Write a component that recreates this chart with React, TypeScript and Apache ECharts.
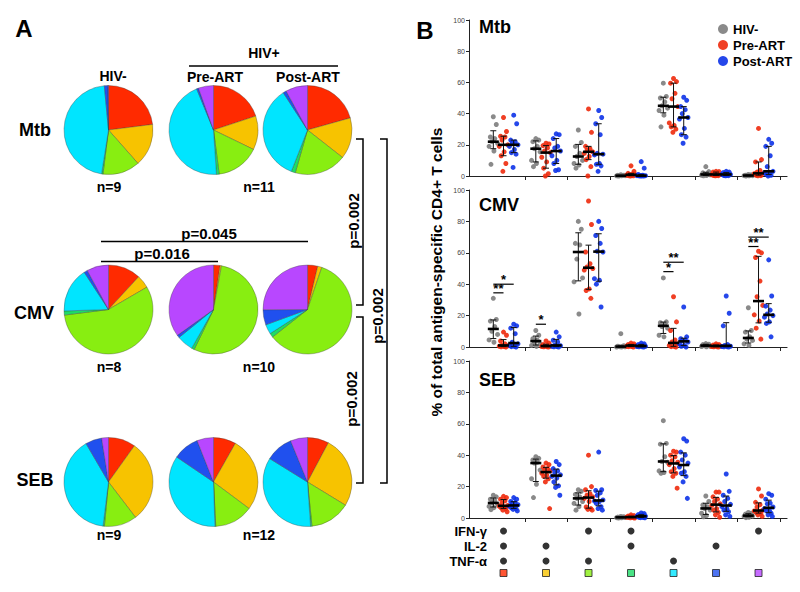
import React, { useEffect, useRef } from "react";
import * as echarts from "echarts";

const FONT = "'Liberation Sans', Arial, Helvetica, sans-serif";

const GROUPS = ["HIV-", "Pre-ART", "Post-ART"];
const GROUP_COLORS = ["#7d7d7d", "#ee2a0c", "#0d33e8"];
const GROUP_OFFSETS = [-0.24, 0, 0.24];
const STIMULI = ["Mtb", "CMV", "SEB"];
const SUBSET_COLORS = ["#ff2a00", "#f7c300", "#88ee11", "#1ddc66", "#00e5ff", "#2050ee", "#b847ff"];
const SUBSETS = ["IFN+IL2+TNF", "IL2+TNF", "IFN+TNF", "IFN+IL2", "TNF", "IL2", "IFN"];

// cytokine combination table (per subset)
const IFNG = [1, 0, 1, 1, 0, 0, 1];
const IL2 = [1, 1, 0, 1, 0, 1, 0];
const TNFA = [1, 1, 1, 0, 1, 0, 0];

// Panel A: pie proportions (%), order of SUBSETS
const PIE_MTB = [
  [23, 15.5, 13.5, 0.5, 46, 1.3, 0.2],
  [20, 12.3, 15.8, 1, 45, 0.7, 5.5],
  [20.7, 15, 18.9, 1.5, 35, 1.2, 8],
];
const PIE_CMV = [
  [12, 4.8, 57, 1.5, 16.5, 1.3, 8],
  [2.4, 0.5, 54.5, 1, 6, 1, 35],
  [3.7, 1.5, 59, 1.5, 3.5, 5.5, 25],
];
const PIE_SEB = [
  [10, 30, 12, 0.5, 40, 6, 2.5],
  [8.2, 27, 14, 0.3, 35, 9.5, 6],
  [7.8, 26, 14.7, 0.5, 35, 10, 6.2],
];
const PIE_N = [["n=9", "n=11"], ["n=8", "n=10"], ["n=9", "n=12"]];

// Panel B: per-donor values (% of total antigen-specific CD4+ T cells), one list per subset
const MTB_HIV_NEG = [
  [38, 33, 25, 24, 22, 21, 19, 16, 7.5],
  [24, 23, 22, 19, 17.5, 15.5, 10, 8, 6],
  [29.5, 21.5, 19, 14.5, 12.5, 10, 8, 7, 5],
  [0.8, 0.5, 0.4, 0.3, 0.2, 0.2, 0.1, 0.1, 0],
  [59.5, 51, 50, 47.5, 45, 43.5, 42, 39, 31.5],
  [6, 2.8, 2, 1.5, 1, 0.8, 0.5, 0.3, 0.1],
  [1, 0.8, 0.5, 0.4, 0.3, 0.2, 0.2, 0.1, 0],
];
const MTB_PRE = [
  [37.5, 28.5, 25.5, 25, 23, 20, 19, 15.5, 13, 8, 3],
  [21, 20.5, 19.5, 18, 16, 15, 12, 9, 5, 1.5, 0],
  [43, 28, 19, 17.5, 16.5, 15.5, 14.5, 12.5, 10.5, 6, 0],
  [6.5, 3, 1.7, 1.2, 1, 0.8, 0.5, 0.3, 0.2, 0.1, 0],
  [62.5, 60.5, 59.5, 53, 49.5, 44.5, 34, 32.5, 31.5, 30, 28],
  [3, 2.8, 2.5, 2, 1.5, 1, 0.8, 0.5, 0.3, 0.2, 0.1],
  [30.5, 10.5, 9, 3.5, 2.5, 1.7, 1.5, 1, 0.5, 0.2, 0.1],
];
const MTB_POST = [
  [39, 33.5, 23, 22, 21, 20, 19, 17, 15, 14, 5.5],
  [27, 26.5, 24, 19, 18, 16, 13, 10, 8, 4, 3.5],
  [42, 37.5, 33.5, 26.5, 14.5, 14, 13.5, 8, 7.5, 6.5, 3],
  [9.2, 5, 1, 0.5, 0.3, 0.2, 0.2, 0.1, 0.1, 0, 0],
  [50.5, 48.5, 44.5, 42.5, 40, 37.5, 36.5, 30.5, 26.5, 25, 21],
  [3, 2.5, 2.2, 2, 1.5, 1, 1, 0.5, 0.3, 0.2, 0.1],
  [23.5, 21, 19, 13, 6, 3, 2, 1.5, 1, 0.5, 0],
];
const CMV_HIV_NEG = [
  [31, 17.5, 16.5, 13, 10, 8, 4.5, 3],
  [10.5, 7.5, 5.3, 4.3, 3.2, 2, 1, 0.4],
  [80, 75, 66, 65, 56, 44, 41.5, 21],
  [8.5, 0.8, 0.5, 0.3, 0.2, 0.1, 0, 0],
  [44, 16, 15.5, 14, 13, 12, 7.5, 6.5],
  [2.2, 1.8, 1.5, 1, 0.8, 0.5, 0.3, 0.1],
  [25, 10.5, 9.5, 6.5, 5, 4.2, 2, 1],
];
const CMV_PRE = [
  [9.5, 7.5, 3.8, 2, 1.2, 0.8, 0.5, 0.3, 0.1, 0],
  [3.8, 2.5, 1.5, 1, 0.7, 0.5, 0.3, 0.2, 0.1, 0],
  [93, 78, 60.5, 53, 51, 50, 49, 37, 36, 31],
  [2.5, 2, 1.5, 1.2, 1, 0.8, 0.5, 0.3, 0.2, 0],
  [32, 16, 10.5, 4.5, 3.2, 2, 1, 0.5, 0.2, 0],
  [2, 1.5, 1.2, 1, 0.8, 0.5, 0.3, 0.2, 0.1, 0],
  [61, 60, 57, 42, 32, 26.5, 20.5, 16.5, 12, 5],
];
const CMV_POST = [
  [14.5, 13.5, 12, 8.5, 3, 2, 1, 0.5, 0.2, 0],
  [9.5, 6.5, 4.3, 3.2, 1.2, 0.8, 0.5, 0.3, 0.1, 0],
  [80, 75.5, 71, 66, 61, 60.5, 43.5, 42.5, 40, 25.5],
  [2.5, 2, 1.5, 1, 0.7, 0.5, 0.3, 0.2, 0.1, 0],
  [25.5, 6.5, 5.3, 4.5, 4, 3.2, 2, 1, 0.5, 0],
  [32.5, 21.5, 13.5, 1.5, 1, 0.5, 0.3, 0.2, 0.1, 0],
  [55.5, 32.5, 26, 23.5, 21, 20, 19, 16, 15, 6.5],
];
const SEB_HIV_NEG = [
  [14.5, 13.5, 12, 11, 9.6, 8.7, 7.4, 6.6, 5.3],
  [39, 38, 37, 35.5, 35, 30.5, 25, 21.5, 13],
  [18, 17, 15, 13.5, 12.5, 10.5, 9.3, 7.2, 5],
  [1, 0.8, 0.6, 0.5, 0.4, 0.3, 0.2, 0.1, 0],
  [62, 47.5, 47, 39, 36, 35.5, 30, 29, 28.5],
  [14, 10.5, 8.3, 7.2, 6.1, 5.1, 3, 1.5, 0.8],
  [3.5, 3, 2.5, 2, 1.5, 1.2, 1, 0.5, 0.2],
];
const SEB_PRE = [
  [13.8, 13, 12, 11, 9.5, 8, 7.5, 7, 6.5, 6, 5, 4],
  [35, 34, 32.5, 31.5, 30.5, 30, 28.5, 27.5, 26.5, 25, 23, 6],
  [40, 20, 18, 15.5, 14.5, 13.5, 12.5, 10.5, 7, 6, 5.5, 5],
  [2, 1.5, 1.2, 1, 0.8, 0.6, 0.5, 0.4, 0.3, 0.2, 0.1, 0],
  [42.5, 42, 40, 39, 36.5, 35.5, 34, 31.5, 29.5, 28.5, 26.5, 19],
  [16.5, 16.5, 13.5, 12, 10.5, 9, 8, 6, 5, 3.5, 2, 0.5],
  [18.5, 14, 10, 8.5, 7, 5, 4.5, 4, 3.5, 3, 2, 1],
];
const SEB_POST = [
  [13, 12, 10.5, 10, 9.5, 8.5, 7.5, 7, 6.5, 6, 5.5, 4.5],
  [36, 34, 31.5, 30, 29, 27.5, 26.5, 25.5, 23, 20.5, 19.5, 14.5],
  [42, 18, 17.5, 16, 14.5, 11.5, 10.8, 10.5, 9.3, 7.2, 6, 5],
  [3.2, 2.8, 2.2, 1.8, 1.5, 1.2, 1, 0.8, 0.5, 0.3, 0.2, 0.1],
  [50.5, 49, 42, 40, 37, 35, 32.5, 29.5, 28.5, 26.5, 23, 12.5],
  [28, 17, 14.5, 12.5, 10.5, 8.7, 7.2, 6, 5, 4, 2, 1],
  [15.5, 14.5, 12, 9.5, 9, 7, 6, 5, 4.5, 3, 2, 1],
];

// CMV significance marks: [subset, fromGroup, toGroup, y, label]
const CMV_SIG: [number, number, number, number, string][] = [
  [0, 0, 2, 40, "*"],
  [0, 0, 1, 34.5, "**"],
  [1, 0, 1, 14.5, "*"],
  [4, 0, 2, 54, "**"],
  [4, 0, 1, 48, "*"],
  [6, 0, 2, 70, "**"],
  [6, 0, 1, 64, "**"],
];

const Y_TICKS_MAX = 100;
const Y_TICKS_STEP = 20;

// layout (pixels)
const PIE_X = [108.5, 213.5, 307.5];
const PIE_Y = [130, 309.5, 482];
const PIE_R = 44.5;
const GRIDS = [
  { left: 469, top: 20, width: 318, height: 156 },
  { left: 469, top: 190, width: 318, height: 157 },
  { left: 469, top: 361, width: 318, height: 157 },
];
const X_MIN = -0.812;
const X_MAX = 6.67;
const JITTER = [0, 0.07, -0.07, 0.035, -0.035, 0.1, -0.1, 0.015, -0.055, 0.055, -0.015, 0.085];

function quantile(asc: number[], p: number) {
  const n = asc.length;
  const pos = (n + 1) * p;
  if (pos <= 1) return asc[0];
  if (pos >= n) return asc[n - 1];
  const lo = Math.floor(pos);
  const f = pos - lo;
  return asc[lo - 1] + f * (asc[lo] - asc[lo - 1]);
}

function median(asc: number[]) {
  const n = asc.length;
  return n % 2 ? asc[(n - 1) / 2] : (asc[n / 2 - 1] + asc[n / 2]) / 2;
}

export default function App() {
  const ref = useRef<HTMLDivElement>(null);
  useEffect(() => {
    document.body.style.margin = "0";
    if (!ref.current) return;
    const chart = echarts.init(ref.current, undefined, { renderer: "svg" });

    const panelData = [
      [MTB_HIV_NEG, MTB_PRE, MTB_POST],
      [CMV_HIV_NEG, CMV_PRE, CMV_POST],
      [SEB_HIV_NEG, SEB_PRE, SEB_POST],
    ];
    const pies = [PIE_MTB, PIE_CMV, PIE_SEB];

    const series: any[] = [];

    // pies
    pies.forEach((rows, r) => {
      rows.forEach((vals, c) => {
        series.push({
          type: "pie",
          center: [PIE_X[c], PIE_Y[r]],
          radius: PIE_R,
          startAngle: 90,
          clockwise: true,
          silent: true,
          label: { show: false },
          labelLine: { show: false },
          emphasis: { disabled: true },
          itemStyle: { borderColor: "rgba(60,60,60,0.7)", borderWidth: 0.5 },
          data: vals.map((v, i) => ({ name: SUBSETS[i], value: v, itemStyle: { color: SUBSET_COLORS[i] } })),
        });
      });
    });

    // scatter + median/IQR
    panelData.forEach((groups, p) => {
      groups.forEach((subsets, g) => {
        const pts: number[][] = [];
        subsets.forEach((vals, i) => {
          vals.forEach((v, j) => {
            pts.push([i + GROUP_OFFSETS[g] + JITTER[j % JITTER.length], v]);
          });
        });
        series.push({
          type: "scatter",
          name: GROUPS[g],
          xAxisIndex: p,
          yAxisIndex: p,
          symbol: "circle",
          symbolSize: 5,
          silent: true,
          itemStyle: { color: GROUP_COLORS[g], opacity: 0.9 },
          data: pts,
          z: 2,
        });
      });
      const stats: number[][] = [];
      groups.forEach((subsets, g) => {
        subsets.forEach((vals, i) => {
          const asc = [...vals].sort((a, b) => a - b);
          stats.push([i + GROUP_OFFSETS[g], median(asc), quantile(asc, 0.25), quantile(asc, 0.75)]);
        });
      });
      series.push({
        type: "custom",
        xAxisIndex: p,
        yAxisIndex: p,
        silent: true,
        z: 5,
        clip: false,
        encode: { x: 0, y: [1, 2, 3] },
        data: stats,
        renderItem: (params: any, api: any) => {
          const x = api.value(0);
          const pm = api.coord([x, api.value(1)]);
          const p1 = api.coord([x, api.value(2)]);
          const p3 = api.coord([x, api.value(3)]);
          const st = { stroke: "#111", lineWidth: 1 };
          return {
            type: "group",
            children: [
              { type: "line", shape: { x1: pm[0], y1: p1[1], x2: pm[0], y2: p3[1] }, style: st },
              { type: "line", shape: { x1: pm[0] - 3, y1: p1[1], x2: pm[0] + 3, y2: p1[1] }, style: st },
              { type: "line", shape: { x1: pm[0] - 3, y1: p3[1], x2: pm[0] + 3, y2: p3[1] }, style: st },
              { type: "line", shape: { x1: pm[0] - 5.5, y1: pm[1], x2: pm[0] + 5.5, y2: pm[1] }, style: { stroke: "#000", lineWidth: 2.6 } },
            ],
          };
        },
      });
    });

    // CMV significance
    series.push({
      type: "custom",
      xAxisIndex: 1,
      yAxisIndex: 1,
      silent: true,
      z: 6,
      clip: false,
      encode: { x: [0, 1], y: 2 },
      data: CMV_SIG.map((s) => [s[0] + GROUP_OFFSETS[s[1]], s[0] + GROUP_OFFSETS[s[2]], s[3]]),
      renderItem: (params: any, api: any) => {
        const a = api.coord([api.value(0), api.value(2)]);
        const b = api.coord([api.value(1), api.value(2)]);
        const label = CMV_SIG[params.dataIndex][4];
        return {
          type: "group",
          children: [
            { type: "line", shape: { x1: a[0], y1: a[1], x2: b[0], y2: a[1] }, style: { stroke: "#000", lineWidth: 1.2 } },
            {
              type: "text",
              x: (a[0] + b[0]) / 2,
              y: a[1] - 4.5,
              style: {
                text: label,
                font: `bold 13px ${FONT}`,
                lineHeight: 6,
                fill: "#000",
                textAlign: "center",
                textVerticalAlign: "middle",
                align: "center",
                verticalAlign: "middle",
              },
            },
          ],
        };
      },
    });

    // cytokine table
    const tableRows = [IFNG, IL2, TNFA];
    const dots: number[][] = [];
    tableRows.forEach((row, r) => {
      row.forEach((on, i) => {
        if (on) dots.push([i, 3 - r]);
      });
    });
    series.push({
      type: "scatter",
      xAxisIndex: 3,
      yAxisIndex: 3,
      silent: true,
      symbol: "circle",
      symbolSize: 7,
      itemStyle: { color: "#000" },
      data: dots,
    });
    series.push({
      type: "scatter",
      xAxisIndex: 3,
      yAxisIndex: 3,
      silent: true,
      symbol: "rect",
      symbolSize: 7,
      data: SUBSET_COLORS.map((c, i) => ({ value: [i, 0.2], itemStyle: { color: c, borderColor: "#222", borderWidth: 1 } })),
    });

    const tickVals = [0.5, 1.5, 2.5, 3.5, 4.5, 5.5, 6.5];
    const xAxes: any[] = GRIDS.map((_, i) => ({
      type: "value",
      gridIndex: i,
      min: X_MIN,
      max: X_MAX,
      splitLine: { show: false },
      axisLabel: { show: false },
      axisLine: { show: true, onZero: false, lineStyle: { color: "#222", width: 1.2 } },
      axisTick: { show: true, customValues: tickVals, length: 4, lineStyle: { color: "#222", width: 1 } },
    }));
    xAxes.push({ type: "value", gridIndex: 3, min: X_MIN, max: X_MAX, show: false });
    const yAxes: any[] = GRIDS.map((_, i) => ({
      type: "value",
      gridIndex: i,
      min: 0,
      max: Y_TICKS_MAX,
      interval: Y_TICKS_STEP,
      splitLine: { show: false },
      axisLine: { show: true, onZero: false, lineStyle: { color: "#222", width: 1 } },
      axisTick: { show: true, length: 3, lineStyle: { color: "#222" } },
      axisLabel: { fontSize: 7, color: "#444", margin: 4, fontFamily: FONT },
    }));
    yAxes.push({ type: "value", gridIndex: 3, min: 0, max: 3, show: false });

    const bold = (size: number) => `bold ${size}px ${FONT}`;
    const txt = (text: string, x: number, y: number, size: number, align = "center", rotation = 0) => ({
      type: "text",
      x,
      y,
      rotation,
      silent: true,
      style: { text, font: bold(size), fill: "#000", textAlign: align, textVerticalAlign: "middle", align, verticalAlign: "middle" },
    });
    const line = (x1: number, y1: number, x2: number, y2: number, w = 1.5) => ({
      type: "line",
      silent: true,
      shape: { x1, y1, x2, y2 },
      style: { stroke: "#000", lineWidth: w },
    });
    const bracket = (x: number, y1: number, y2: number) => ({
      type: "polyline",
      silent: true,
      shape: { points: [[x - 7, y1], [x, y1], [x, y2], [x - 7, y2]] },
      style: { stroke: "#000", lineWidth: 1.5, fill: "none" },
    });

    const graphics: any[] = [
      txt("A", 24, 28, 24),
      txt("HIV-", 113, 76, 14),
      txt("HIV+", 264, 53, 14),
      line(189, 66, 338, 66),
      txt("Pre-ART", 215, 77, 14),
      txt("Post-ART", 308, 77, 14),
      txt(STIMULI[0], 35, 130, 18),
      txt(STIMULI[1], 34, 313, 18),
      txt(STIMULI[2], 35, 480, 18),
      txt(PIE_N[0][0], 109, 187, 14),
      txt(PIE_N[0][1], 259, 187, 14),
      txt(PIE_N[1][0], 109, 367, 14),
      txt(PIE_N[1][1], 259, 367, 14),
      txt(PIE_N[2][0], 109, 535, 14),
      txt(PIE_N[2][1], 259, 535, 14),
      txt("p=0.045", 209, 233, 15),
      line(101, 241.5, 308, 241.5),
      txt("p=0.016", 162, 253, 15),
      line(101, 261.5, 218, 261.5),
      bracket(363, 139, 305),
      bracket(387, 139, 483),
      bracket(363, 317, 483),
      txt("p=0.002", 353, 221, 15, "center", Math.PI / 2),
      txt("p=0.002", 377, 316, 15, "center", Math.PI / 2),
      txt("p=0.002", 351, 399, 15, "center", Math.PI / 2),
      txt("B", 425, 30, 24),
      txt("% of total antigen-specific CD4+ T cells", 436, 272, 15.5, "center", Math.PI / 2),
      txt(STIMULI[0], 479, 27, 18, "left"),
      txt(STIMULI[1], 479, 205, 18, "left"),
      txt(STIMULI[2], 479, 380, 18, "left"),
      txt("IFN-γ", 487, 531, 13, "right"),
      txt("IL-2", 487, 546, 13, "right"),
      txt("TNF-α", 487, 561, 13, "right"),
    ];

    chart.setOption({
      animation: false,
      backgroundColor: "#fff",
      textStyle: { fontFamily: FONT },
      legend: {
        data: GROUPS,
        orient: "vertical",
        left: 713,
        top: 17,
        itemWidth: 10,
        itemHeight: 10,
        itemGap: 2,
        icon: "circle",
        selectedMode: false,
        textStyle: { fontFamily: FONT, fontWeight: "bold", fontSize: 13, color: "#000", lineHeight: 14 },
      },
      grid: [...GRIDS, { left: 469, top: 531, width: 318, height: 45 }],
      xAxis: xAxes,
      yAxis: yAxes,
      series,
      graphic: graphics,
    });

    return () => chart.dispose();
  }, []);
  return <div ref={ref} style={{ width: 800, height: 592 }} />;
}
